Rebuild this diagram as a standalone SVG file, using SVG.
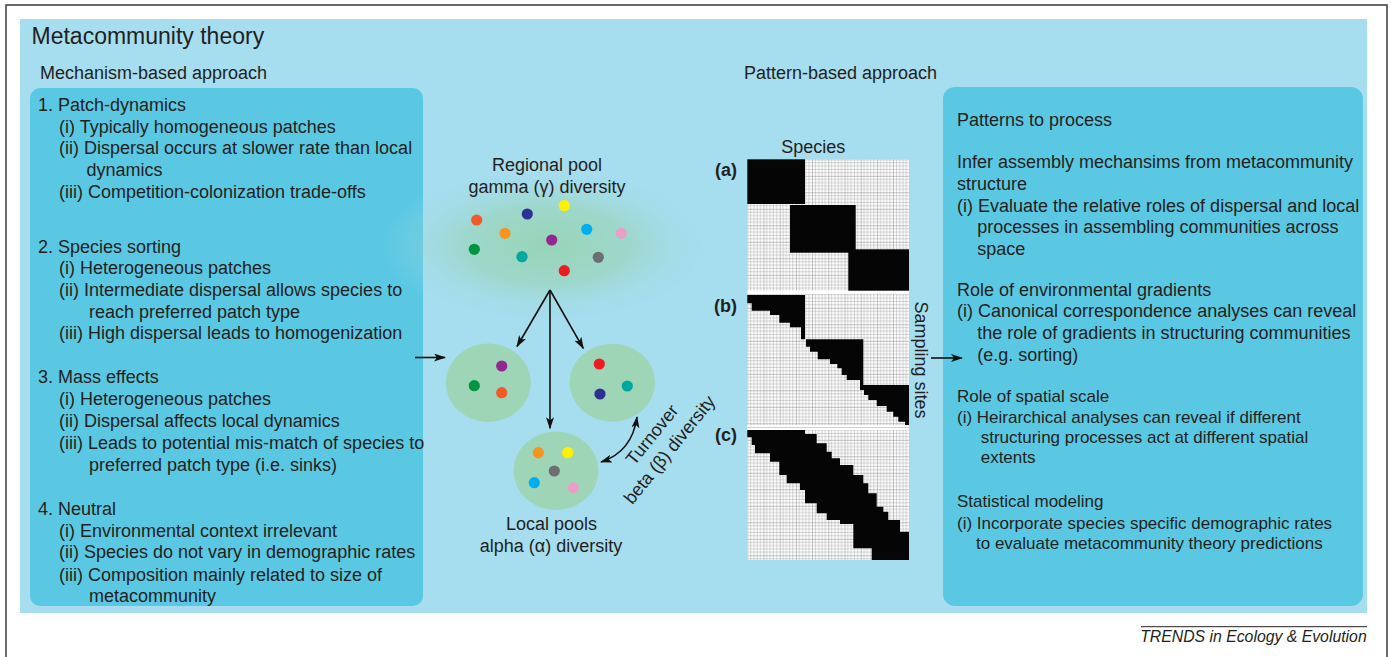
<svg xmlns="http://www.w3.org/2000/svg" width="1391" height="657" viewBox="0 0 1391 657">
<defs>
<style>
.t{font-family:"Liberation Sans",Arial,Helvetica,sans-serif;font-size:18px;fill:#231f20}
.s17{font-size:17px}
.b{font-weight:bold}
.box{fill:#5bc8e3}
.pool{fill:#9fd5b7}
.ln{stroke:#111;stroke-width:1.6;fill:none}
.blk{fill:#050505}
</style>
<marker id="ah" markerUnits="userSpaceOnUse" markerWidth="12" markerHeight="8" refX="11" refY="4" orient="auto-start-reverse">
<path d="M0,0 L12,4 L0,8 L3,4 z" fill="#111"/>
</marker>
<radialGradient id="glow" cx="0.5" cy="0.5" r="0.5">
<stop offset="0" stop-color="#96d3b0" stop-opacity="0.9"/>
<stop offset="0.5" stop-color="#98d4b4" stop-opacity="0.6"/>
<stop offset="1" stop-color="#a6ddef" stop-opacity="0"/>
</radialGradient>
<pattern id="grid" patternUnits="userSpaceOnUse" x="747.3" y="159.3" width="16.2" height="16.5">
<rect width="16.2" height="16.5" fill="#ffffff"/>
<path d="M0,0.2 H16.2 M0,3.5 H16.2 M0,6.8 H16.2 M0,10.1 H16.2 M0,13.4 H16.2 M0.2,0 V16.5 M3.44,0 V16.5 M6.68,0 V16.5 M9.92,0 V16.5 M13.16,0 V16.5" stroke="#a8a8a8" stroke-width="0.5"/>
<path d="M0,0.2 H16.2 M0.2,0 V16.5" stroke="#8a8a8a" stroke-width="0.5"/>
</pattern>
</defs>

<rect x="6" y="5" width="1381" height="700" fill="#ffffff" stroke="#3a3a3a" stroke-width="1.5"/>
<rect x="20" y="19" width="1347" height="594" fill="#a6ddef"/>

<g id="titles">
<text class="t" x="31.5" y="44.3" style="font-size:23px">Metacommunity theory</text>
<text class="t" x="40" y="79">Mechanism-based approach</text>
<text class="t" x="744" y="79">Pattern-based approach</text>
</g>

<g id="mechanism-box">
<rect class="box" x="30" y="88" width="393" height="518" rx="10"/>
<text class="t" x="38" y="111">1. Patch-dynamics</text>
<text class="t" x="59" y="132.7">(i) Typically homogeneous patches</text>
<text class="t" x="59" y="154.3">(ii) Dispersal occurs at slower rate than local</text>
<text class="t" x="86.5" y="176">dynamics</text>
<text class="t" x="59" y="197.7">(iii) Competition-colonization trade-offs</text>
<text class="t" x="38" y="252.7">2. Species sorting</text>
<text class="t" x="59" y="274.3">(i) Heterogeneous patches</text>
<text class="t" x="59" y="296">(ii) Intermediate dispersal allows species to</text>
<text class="t" x="89" y="317.6">reach preferred patch type</text>
<text class="t" x="59" y="339.2">(iii) High dispersal leads to homogenization</text>
<text class="t" x="38" y="383.3">3. Mass effects</text>
<text class="t" x="59" y="405.3">(i) Heterogeneous patches</text>
<text class="t" x="59" y="427.3">(ii) Dispersal affects local dynamics</text>
<text class="t" x="59" y="449.3">(iii) Leads to potential mis-match of species to</text>
<text class="t" x="89" y="470.7">preferred patch type (i.e. sinks)</text>
<text class="t" x="38" y="515">4. Neutral</text>
<text class="t" x="59" y="536.7">(i) Environmental context irrelevant</text>
<text class="t" x="59" y="558.3">(ii) Species do not vary in demographic rates</text>
<text class="t" x="59" y="580.7">(iii) Composition mainly related to size of</text>
<text class="t" x="89" y="601.7">metacommunity</text>
</g>

<g id="regional-pool">
<ellipse cx="547" cy="245" rx="165" ry="78" fill="url(#glow)"/>
<text class="t" x="547" y="170.7" text-anchor="middle">Regional pool</text>
<text class="t" x="547" y="193.3" text-anchor="middle">gamma (γ) diversity</text>
<circle cx="476.7" cy="220" r="5.6" fill="#f15a29"/>
<circle cx="527.3" cy="214" r="5.6" fill="#2e3192"/>
<circle cx="564.3" cy="205.7" r="5.6" fill="#fff200"/>
<circle cx="505" cy="233.3" r="5.6" fill="#f7941d"/>
<circle cx="586.7" cy="229.3" r="5.6" fill="#00aeef"/>
<circle cx="621.3" cy="233.3" r="5.6" fill="#e8a0c6"/>
<circle cx="474.3" cy="249.3" r="5.6" fill="#009444"/>
<circle cx="551.7" cy="240" r="5.6" fill="#92278f"/>
<circle cx="522" cy="256.7" r="5.6" fill="#00a79d"/>
<circle cx="598.3" cy="257.3" r="5.6" fill="#6d6e71"/>
<circle cx="564.3" cy="270.7" r="5.6" fill="#ed1c24"/>
</g>

<g id="local-pool-left">
<ellipse class="pool" cx="488.3" cy="382.7" rx="42.5" ry="39.2"/>
<circle cx="501.7" cy="366" r="5.6" fill="#92278f"/>
<circle cx="474.3" cy="385.7" r="5.6" fill="#009444"/>
<circle cx="501.7" cy="392.7" r="5.6" fill="#f15a29"/>
</g>
<g id="local-pool-right">
<ellipse class="pool" cx="612.3" cy="382.7" rx="42.8" ry="39"/>
<circle cx="599.3" cy="364" r="5.6" fill="#ed1c24"/>
<circle cx="627.3" cy="386" r="5.6" fill="#00a79d"/>
<circle cx="600" cy="394" r="5.6" fill="#2e3192"/>
</g>
<g id="local-pool-bottom">
<ellipse class="pool" cx="556" cy="470.7" rx="42.5" ry="39.2"/>
<circle cx="538.3" cy="452.7" r="5.6" fill="#f7941d"/>
<circle cx="567.7" cy="452.7" r="5.6" fill="#fff200"/>
<circle cx="554.3" cy="471" r="5.6" fill="#6d6e71"/>
<circle cx="534.3" cy="482.7" r="5.6" fill="#00aeef"/>
<circle cx="573.3" cy="487.7" r="5.6" fill="#e8a0c6"/>
<text class="t" x="551.5" y="530" text-anchor="middle">Local pools</text>
<text class="t" x="551" y="551.7" text-anchor="middle">alpha (α) diversity</text>
</g>

<g id="turnover-label">
<text class="t" text-anchor="middle" transform="translate(656.8,438.5) rotate(-51)">Turnover</text>
<text class="t" text-anchor="middle" transform="translate(674.3,453.5) rotate(-51)">beta (β) diversity</text>
</g>

<g id="matrices">
<text class="t" x="813.3" y="152.7" text-anchor="middle">Species</text>
<rect x="747.3" y="159.3" width="161.7" height="400.7" fill="#ffffff"/>
<rect x="747.3" y="159.3" width="161.7" height="131.4" fill="url(#grid)"/>
<rect x="747.3" y="294" width="161.7" height="131" fill="url(#grid)"/>
<rect x="747.3" y="430" width="161.7" height="130" fill="url(#grid)"/>
<line x1="747.3" y1="427.5" x2="909" y2="427.5" stroke="#d0d0d0" stroke-width="1"/>
<g id="matrix-a">
<text class="t b" x="737" y="176" text-anchor="end">(a)</text>
<rect class="blk" x="747.3" y="159.3" width="57.7" height="44.7"/>
<rect class="blk" x="790" y="205" width="65.7" height="47.7"/>
<rect class="blk" x="848.3" y="249.3" width="60.7" height="41.4"/>
</g>
<g id="matrix-b">
<text class="t b" x="737" y="312" text-anchor="end">(b)</text>
<path class="blk" d="M747.3,295 H805 V339.3 H863.3 V385 H909 V425 H905 V421.7 H898.3 V416.7 H893.3 V411.7 H886.7 V406 H876.7 V400 H868.3 V395 H864 V390 H860 V380 H846.7 V375 H841.7 V368.3 H837.3 V364 H830 V359.3 H817.7 V351.7 H810 V346.7 H806 V339.3 H801 V327.3 H790 V322.7 H779.3 V315 H770 V310.7 H751.7 V303.3 H747.3 Z"/>
</g>
<g id="matrix-c">
<text class="t b" x="737" y="441" text-anchor="end">(c)</text>
<path class="blk" d="M747.3,430 H805 V434 H816.7 V443.3 H826.7 V451.7 H831.7 V458.3 H840 V465 H853.3 V475 H863.3 V483.3 H868.3 V493.3 H876.7 V506.7 H883.3 V511.7 H888.3 V520 H900 V531.7 H909 V560 H871.7 V548.3 H853.3 V524 H840 V520 H826.7 V513.3 H816.7 V503.3 H805 V490 H800 V483.3 H786.7 V475 H779.3 V461.7 H770 V453.3 H755 V445 H751.7 V437.3 H747.3 Z"/>
</g>
<text class="t" text-anchor="middle" transform="translate(915,360) rotate(90)">Sampling sites</text>
</g>

<g id="pattern-box">
<rect class="box" x="943" y="87" width="420" height="519" rx="12"/>
<text class="t" x="957" y="125.7">Patterns to process</text>
<text class="t" x="957" y="168.3">Infer assembly mechansims from metacommunity</text>
<text class="t" x="957" y="190">structure</text>
<text class="t" x="957" y="211.7">(i) Evaluate the relative roles of dispersal and local</text>
<text class="t" x="977.3" y="233.3">processes in assembling communities across</text>
<text class="t" x="977.3" y="255">space</text>
<text class="t" x="957" y="295.7">Role of environmental gradients</text>
<text class="t" x="957" y="317.3">(i) Canonical correspondence analyses can reveal</text>
<text class="t" x="977.3" y="339.3">the role of gradients in structuring communities</text>
<text class="t" x="977.3" y="361">(e.g. sorting)</text>
<text class="t s17" x="957" y="401.7">Role of spatial scale</text>
<text class="t s17" x="957" y="422.7">(i) Heirarchical analyses can reveal if different</text>
<text class="t s17" x="980.7" y="443.3">structuring processes act at different spatial</text>
<text class="t s17" x="980.7" y="462.7">extents</text>
<text class="t s17" x="957" y="507.3">Statistical modeling</text>
<text class="t s17" x="957" y="529.3">(i) Incorporate species specific demographic rates</text>
<text class="t s17" x="976" y="549.3">to evaluate metacommunity theory predictions</text>
</g>

<g id="connectors">
<line class="ln" x1="415" y1="357.5" x2="445" y2="357.5" marker-end="url(#ah)"/>
<line class="ln" x1="931" y1="358" x2="962" y2="358" marker-end="url(#ah)"/>
<line class="ln" x1="550" y1="290" x2="517" y2="346.5" marker-end="url(#ah)"/>
<line class="ln" x1="550" y1="290" x2="550" y2="428.3" marker-end="url(#ah)"/>
<line class="ln" x1="550" y1="290" x2="583.3" y2="348.3" marker-end="url(#ah)"/>
<path class="ln" d="M601,462 Q632,452 637,417" marker-start="url(#ah)" marker-end="url(#ah)"/>
</g>

<g id="credit">
<line x1="1141" y1="626.7" x2="1367" y2="626.7" stroke="#222" stroke-width="1"/>
<text class="t" x="1366.7" y="641.7" text-anchor="end" style="font-size:15.8px;font-style:italic">TRENDS in Ecology &amp; Evolution</text>
</g>
</svg>
